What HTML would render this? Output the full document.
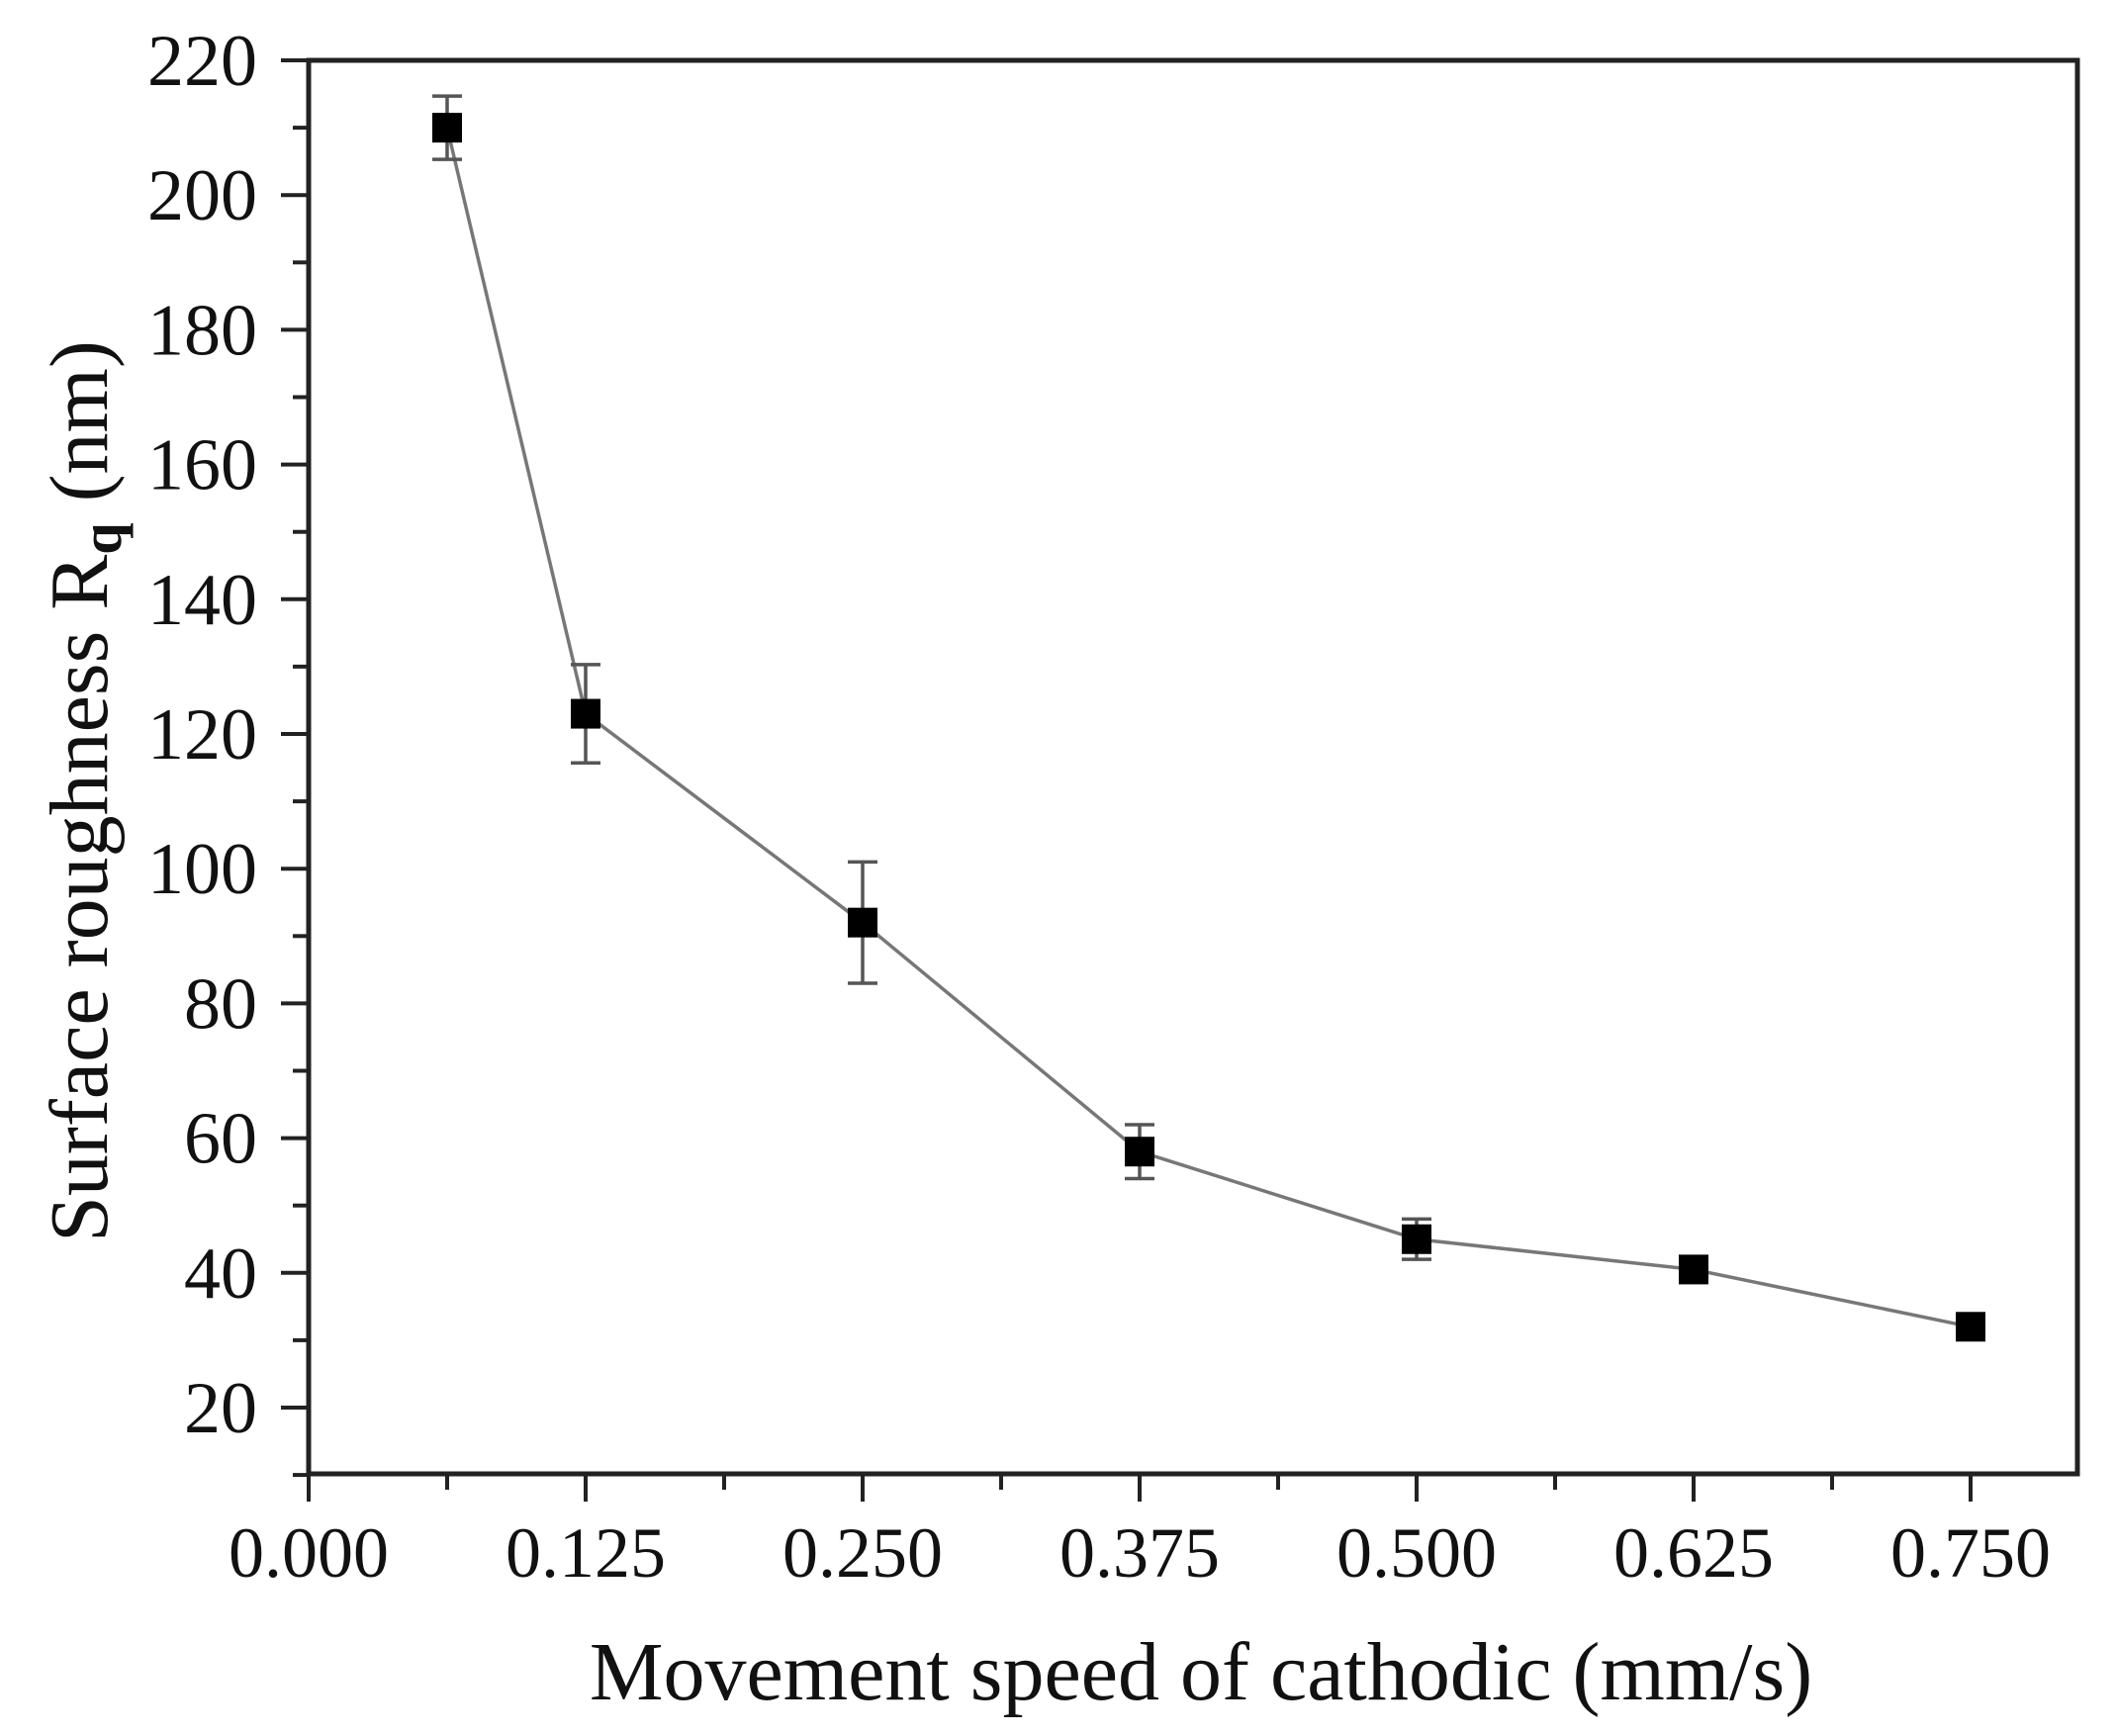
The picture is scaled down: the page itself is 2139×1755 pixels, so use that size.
<!DOCTYPE html>
<html><head><meta charset="utf-8"><style>
html,body{margin:0;padding:0;background:#fff;}
svg{display:block;font-family:"Liberation Serif",serif;}
</style></head><body>
<svg id="chart" width="2139" height="1755" viewBox="0 0 2139 1755" xmlns="http://www.w3.org/2000/svg">
<g id="plot"></g>
<text x="1214" y="1718" font-size="84" text-anchor="middle" fill="#111">Movement speed of cathodic (mm/s)</text>
<text transform="translate(108,800) rotate(-90)" font-size="84" text-anchor="middle" fill="#111">Surface roughness R<tspan font-size="58" dy="14" font-weight="bold">q</tspan><tspan dy="-14"> (nm)</tspan></text>
</svg>
<script>
const xValues=[0.0625,0.125,0.25,0.375,0.5,0.625,0.75];
const yValues=[210,123,92,58,45,40.5,32];
const yErrors=[4.7,7.3,9,4,3,1.5,1.2];
const xTickLabels=["0.000","0.125","0.250","0.375","0.500","0.625","0.750"];
const yTickLabels=["20","40","60","80","100","120","140","160","180","200","220"];
const X0=312,X1=2100,Y0=1490,Y1=61;
const xMin=0,xMax=(X1-X0)/2240,yMin=(1490-1423)/-6.81+20,yMax=220;
function sx(v){return X0+(v-xMin)/(xMax-xMin)*(X1-X0);}
function sy(v){return Y0-(v-yMin)/(yMax-yMin)*(Y0-Y1);}
const NS="http://www.w3.org/2000/svg",g=document.getElementById('plot');
function mk(t,a){const e=document.createElementNS(NS,t);for(const k in a)e.setAttribute(k,a[k]);g.appendChild(e);return e;}
let e=mk('rect',{x:X0,y:Y1,width:X1-X0,height:Y0-Y1,fill:'none',stroke:'#222','stroke-width':5});


xTickLabels.forEach((l,i)=>{const v=parseFloat(l),x=sx(v);
 let t=mk('line',{x1:x,y1:Y0,x2:x,y2:Y0+28,stroke:'#222','stroke-width':4});
 
 
 if(v+0.0625<xMax){
 let m=mk('line',{x1:sx(v+0.0625),y1:Y0,x2:sx(v+0.0625),y2:Y0+16,stroke:'#222','stroke-width':4});
 
 
 }
 let tx=mk('text',{x:x,y:Y0+104,'font-size':72,'text-anchor':'middle',fill:'#111'});tx.textContent=l;
 
 
});
yTickLabels.forEach(l=>{const v=parseFloat(l),y=sy(v);
 let t=mk('line',{x1:X0-28,y1:y,x2:X0,y2:y,stroke:'#222','stroke-width':4});
 
 
 let m=mk('line',{x1:X0-16,y1:sy(v-10),x2:X0,y2:sy(v-10),stroke:'#222','stroke-width':4});
 
 
 let tx=mk('text',{x:X0-52,y:y+25,'font-size':74,'text-anchor':'end',fill:'#111'});tx.textContent=l;
 
 
});
let pts=xValues.map((v,i)=>sx(v)+','+sy(yValues[i])).join(' ');
let pl=mk('polyline',{points:pts,fill:'none',stroke:'#777','stroke-width':3.5});


xValues.forEach((v,i)=>{const x=sx(v),yt=sy(yValues[i]+yErrors[i]),yb=sy(yValues[i]-yErrors[i]);
 let eb=mk('path',{d:`M${x},${yt}V${yb}M${x-15},${yt}H${x+15}M${x-15},${yb}H${x+15}`,stroke:'#555','stroke-width':3.5,fill:'none'});
 
 
 let r=mk('rect',{x:x-15,y:sy(yValues[i])-15,width:30,height:30,fill:'#000'});
 
 
});
</script>
</body></html>
